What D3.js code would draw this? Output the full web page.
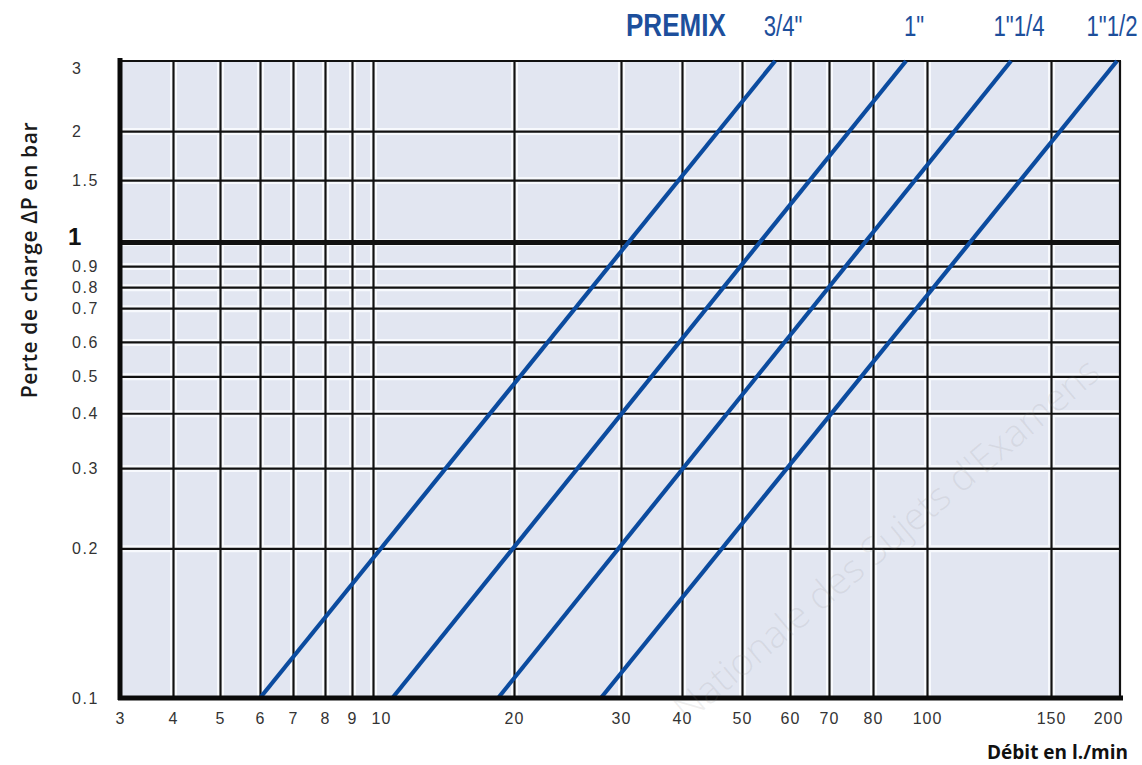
<!DOCTYPE html>
<html><head><meta charset="utf-8">
<script src="https://cdn.jsdelivr.net/npm/d3@7"></script>
<style>body{margin:0;background:#fff;} svg{display:block;}</style>
</head><body><svg id="c" width="1142" height="765"></svg>
<script>
// ---------------- data ----------------
const xTicks = [3,4,5,6,7,8,9,10,20,30,40,50,60,70,80,100,150,200];
const yTicks = [3,2,1.5,1,0.9,0.8,0.7,0.6,0.5,0.4,0.3,0.2,0.1];
const yTickLabels = ["3","2","1.5","1","0.9","0.8","0.7","0.6","0.5","0.4","0.3","0.2","0.1"];
const sizes = ['3/4"', '1"', '1"1/4', '1"1/2'];
const pLow = 0.1, pHigh = 3;                   // bar
const flowAtLow  = [6.0, 11.0, 18.5, 27.8];    // l/min at 0.1 bar
const flowAtHigh = [56.7, 91.7, 131.6, 197.5]; // l/min at 3 bar
const brand = "PREMIX";
const xTitle = "Débit en l./min";
const yTitle = "Perte de charge \u0394P en bar";
const watermark = "Nationale des Sujets d'Examens";

// ---------------- layout ----------------
const M = {left:120, top:61, right:1120, bottom:698};
const W = M.right - M.left, H = M.bottom - M.top;
// the printed (scanned) grid is not a perfectly regular log grid
const xFrac = [0,.053,.100,.140,.173,.205,.232,.253,.394,.501,.562,.622,.670,.709,.753,.807,.931,1];
const yFrac = [0,.110,.187,.284,.322,.355,.388,.441,.495,.553,.639,.765,1];

const x = d3.scaleLog().domain(xTicks).range(xFrac.map(f => f * W));
const y = d3.scaleLog().domain(yTicks).range(yFrac.map(f => f * H));

const svg = d3.select("#c");
const g = svg.append("g").attr("transform", `translate(${M.left},${M.top})`);

g.append("rect").attr("width", W).attr("height", H).attr("fill", "#e2e6f1");

// grid: white halo then black line
function grid(cls, stroke, width) {
  const gx = g.append("g").attr("class", cls).attr("transform", `translate(0,${H})`)
    .call(d3.axisBottom(x).tickValues(xTicks.slice(1, -1)).tickSize(-H).tickFormat(""));
  const gy = g.append("g").attr("class", cls)
    .call(d3.axisLeft(y).tickValues(yTicks.slice(1, -1)).tickSize(-W).tickFormat(""));
  [gx, gy].forEach(s => {
    s.select(".domain").remove();
    s.selectAll("line").attr("stroke", stroke).attr("stroke-width", width);
  });
  return gy;
}
grid("halo", "#f7f9fd", 7);
const gy = grid("grid", "#111", 2.2);
gy.selectAll(".tick").filter(d => d === 1).select("line").attr("stroke-width", 5);

// frame
g.append("line").attr("x1", -2).attr("x2", W + 1).attr("y1", 0).attr("y2", 0)
  .attr("stroke", "#111").attr("stroke-width", 2.2);
g.append("line").attr("x1", W).attr("x2", W).attr("y1", 0).attr("y2", H)
  .attr("stroke", "#111").attr("stroke-width", 2.2);

// curves
const line = d3.line().x(d => x(d[0])).y(d => y(d[1]));
sizes.forEach((s, i) => {
  g.append("path").attr("d", line([[flowAtLow[i], pLow], [flowAtHigh[i], pHigh]]))
    .attr("fill", "none").attr("stroke", "#0b4b9f").attr("stroke-width", 4.2);
});

// thick left and bottom axes
g.append("line").attr("x1", 0).attr("x2", 0).attr("y1", -3).attr("y2", H + 2)
  .attr("stroke", "#0a0a0a").attr("stroke-width", 5);
g.append("line").attr("x1", -2).attr("x2", W + 3).attr("y1", H).attr("y2", H)
  .attr("stroke", "#0a0a0a").attr("stroke-width", 5);

// axis labels
const xa = g.append("g").attr("transform", `translate(0,${H})`)
  .call(d3.axisBottom(x).tickValues(xTicks).tickSize(0).tickPadding(15).tickFormat(d3.format("d")));
xa.select(".domain").remove();
xa.selectAll("text").attr("font-family", "'Liberation Sans', Arial, sans-serif")
  .attr("font-size", 16).attr("fill", "#333").attr("letter-spacing", 1)
  .attr("dx", d => d === 10 ? 8 : d === 200 ? -12 : 0);

const ya = g.append("g")
  .call(d3.axisLeft(y).tickValues(yTicks).tickSize(0).tickFormat((d, i) => yTickLabels[i]));
ya.select(".domain").remove();
ya.selectAll("text").attr("font-family", "'Liberation Sans', Arial, sans-serif")
  .attr("font-size", 16).attr("fill", "#333").attr("letter-spacing", 1.6)
  .attr("text-anchor", "start").attr("x", -48)
  .attr("dy", d => d === 3 ? "0.75em" : "0.32em");
ya.selectAll(".tick").filter(d => d === 1).select("text")
  .attr("font-size", 24).attr("font-weight", "bold").attr("fill", "#111")
  .attr("letter-spacing", 0).attr("x", -52).attr("dy", "0.1em");

// titles
svg.append("text").attr("transform", "translate(37,260) rotate(-90)")
  .attr("text-anchor", "middle").attr("font-family", "'Open Sans', sans-serif")
  .attr("font-weight", 600).attr("font-size", 21).attr("letter-spacing", 0.6)
  .attr("fill", "#1a1a1a").text(yTitle);
svg.append("text").attr("x", 1128).attr("y", 759).attr("text-anchor", "end")
  .attr("font-family", "'Open Sans', sans-serif").attr("font-weight", 700)
  .attr("font-size", 19).attr("fill", "#111").text(xTitle);

// header (condensed lettering)
const head = svg.append("g").attr("font-family", "'Liberation Sans', Arial, sans-serif")
  .attr("fill", "#1d4f9c");
head.append("text").attr("transform", "translate(626,36) scale(0.84,1)")
  .attr("font-weight", 700).attr("font-size", 31).text(brand);
sizes.forEach((s, i) => {
  const cx = Math.min(M.left + x(flowAtHigh[i]) + 8, 1112);
  head.append("text").attr("transform", `translate(${cx},36) scale(0.74,1)`)
    .attr("text-anchor", "middle").attr("font-size", 30).text(s);
});

// faint scan watermark
svg.append("text").attr("transform", "translate(895,550) rotate(-40)")
  .attr("text-anchor", "middle").attr("font-family", "'Open Sans', sans-serif")
  .attr("font-weight", 300).attr("font-size", 38).attr("fill", "#7a7a7a")
  .attr("fill-opacity", 0.12).text(watermark);
</script></body></html>
